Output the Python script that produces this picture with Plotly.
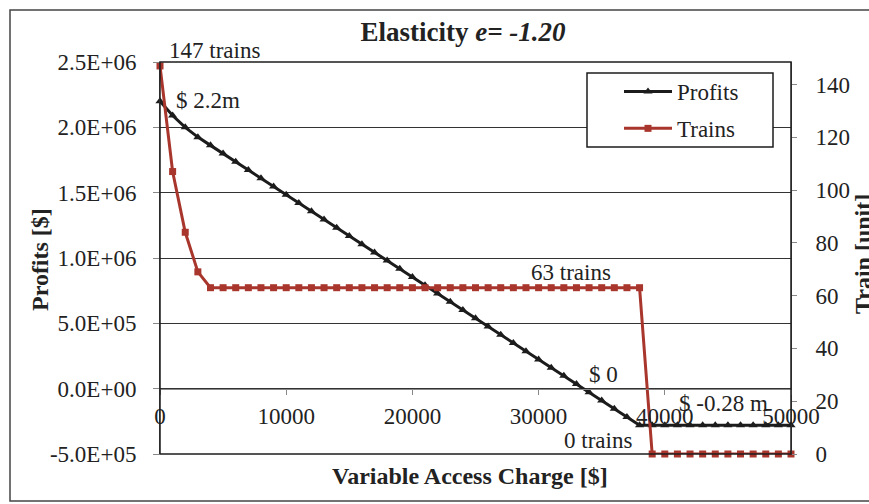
import plotly.graph_objects as go

# datos
access_charge = [i * 1000 for i in range(51)]
profits_k = [2200, 2090, 2000, 1925, 1862, 1799, 1736, 1673, 1610, 1547,
             1484, 1421, 1358, 1295, 1232, 1169, 1106, 1043, 980, 917,
             854, 791, 728, 665, 602, 539, 476, 413, 350, 287,
             224, 161, 98, 35, -28, -91, -154, -217, -280, -280,
             -280, -280, -280, -280, -280, -280, -280, -280, -280, -280, -280]
profits = [v * 1000 for v in profits_k]
trains = [147, 107, 84, 69] + [63] * 35 + [0] * 12

left_ticks = [-5e5, 0, 5e5, 1e6, 1.5e6, 2e6, 2.5e6]
left_labels = ["-5.0E+05", "0.0E+00", "5.0E+05", "1.0E+06", "1.5E+06", "2.0E+06", "2.5E+06"]
right_ticks = [0, 20, 40, 60, 80, 100, 120, 140]
x_ticks = [0, 10000, 20000, 30000, 40000, 50000]

W, H = 869, 504
L, R, T, B = 160, 791, 62, 454
FONT = "Liberation Serif, Times New Roman, serif"
BLACK = "#1c1c1c"
RED = "#a8362c"
TXT = "#222"


def px(x):
    return (x - L) / (R - L)


def py(y):
    return (B - y) / (B - T)


fig = go.Figure()
fig.add_trace(go.Scatter(x=access_charge, y=profits, name="Profits", mode="lines+markers",
                         legendgroup="p", cliponaxis=False,
                         line=dict(color=BLACK, width=3),
                         marker=dict(symbol="triangle-up", size=8, color=BLACK)))
fig.add_trace(go.Scatter(x=access_charge, y=trains, name="Trains", mode="lines+markers",
                         legendgroup="t", cliponaxis=False,
                         yaxis="y2", line=dict(color=RED, width=3),
                         marker=dict(symbol="square", size=7, color=RED)))

tickfont = dict(family=FONT, size=23, color=TXT)
fig.update_layout(
    width=W, height=H,
    margin=dict(l=L, r=W - R, t=T, b=H - B),
    paper_bgcolor="white", plot_bgcolor="white",
    font=dict(family=FONT, color=TXT),
    title=dict(text="<b>Elasticity <i>e= -1.20</i></b>", x=463 / W, xanchor="center",
               y=1 - 32 / H, yanchor="middle", font=dict(family=FONT, size=27, color=TXT)),
    xaxis=dict(range=[0, 50000], tickvals=x_ticks, tickformat="d", anchor="free", position=1 / 6,
               showline=True, linecolor="#888", linewidth=1, ticks="outside", ticklen=5,
               tickcolor="#888", showgrid=False, zeroline=False, tickfont=tickfont,
               ticklabelstandoff=2),
    yaxis=dict(range=[-5e5, 2.5e6], tickvals=left_ticks, ticktext=left_labels,
               showline=True, linecolor="#555", ticks="outside", ticklen=6, tickcolor="#888",
               showgrid=True, gridcolor="#333", gridwidth=1, zeroline=False,
               tickfont=tickfont, ticklabelstandoff=12),
    yaxis2=dict(range=[0, 148.5], tickvals=right_ticks, overlaying="y", side="right",
                showline=True, linecolor="#555", ticks="outside", ticklen=5, tickcolor="#888",
                showgrid=False, zeroline=False, tickfont=tickfont, ticklabelstandoff=14),
    legend=dict(x=px(619), y=py(70), xanchor="left", yanchor="top",
                bgcolor="rgba(0,0,0,0)", borderwidth=0,
                font=dict(family=FONT, size=23, color=TXT), itemwidth=48,
                tracegroupgap=4),
    showlegend=True,
)

# caja de la leyenda, borde del área de trazado y marco exterior
fig.add_shape(type="rect", xref="paper", yref="paper", x0=px(587), x1=px(773), y0=py(147), y1=py(73),
              line=dict(color=BLACK, width=1.5), fillcolor="white", layer="above")
fig.add_shape(type="rect", xref="paper", yref="paper", x0=0, x1=1, y0=0, y1=1,
              line=dict(color=BLACK, width=1.5))
fig.add_shape(type="rect", xref="paper", yref="paper", x0=px(10), x1=px(880), y0=py(501), y1=py(10),
              line=dict(color="#444", width=1.5))

notes = [
    ("147 trains", 214, 50),
    ("$ 2.2m", 208, 100),
    ("63 trains", 571, 272),
    ("$ 0", 603, 374),
    ("$ -0.28 m", 723, 403),
    ("0 trains", 598, 440),
]
for txt, x, y in notes:
    fig.add_annotation(text=txt, x=px(x), y=py(y), xref="paper", yref="paper",
                       showarrow=False, xanchor="center", yanchor="middle",
                       font=dict(family=FONT, size=23, color=TXT))

fig.add_annotation(text="<b>Variable Access Charge [$]</b>", x=px(470), y=py(476),
                   xref="paper", yref="paper", showarrow=False,
                   xanchor="center", yanchor="middle",
                   font=dict(family=FONT, size=24, color=TXT))
fig.add_annotation(text="<b>Profits [$]</b>", x=px(40), y=py(260), xref="paper", yref="paper",
                   showarrow=False, textangle=-90, xanchor="center", yanchor="middle",
                   font=dict(family=FONT, size=24, color=TXT))
fig.add_annotation(text="<b>Train [unit]</b>", x=px(848), y=py(254), xref="paper", yref="paper",
                   showarrow=False, textangle=-90, xanchor="left", yanchor="middle",
                   font=dict(family=FONT, size=24, color=TXT))

fig.write_html("out.html", config={"displayModeBar": False},
               post_script="document.body.style.margin='0';")
